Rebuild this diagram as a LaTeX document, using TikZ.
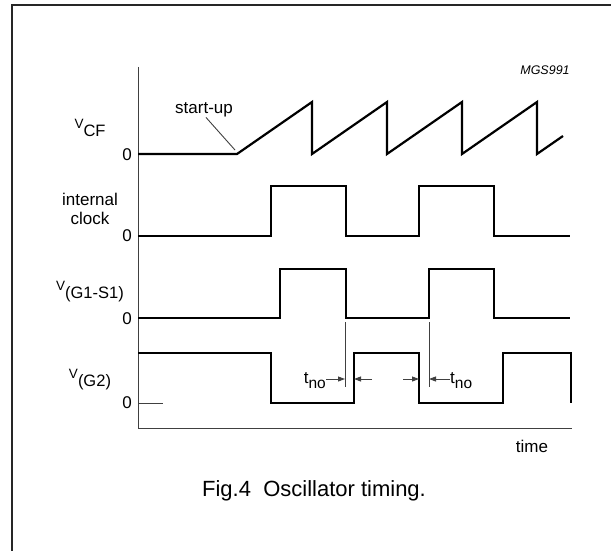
\documentclass[tikz,border=0pt]{standalone}
\usepackage{fontspec}
\setmainfont{Liberation Sans}
\usetikzlibrary{arrows.meta}
\tikzset{
  wave/.style={line width=2.2pt, line join=miter},
  thinline/.style={line width=0.9pt, black!75},
  lbl/.style={font=\fontsize{17}{19}\selectfont, inner sep=0pt},
  tarrow/.style={thinline, -{Triangle[length=7pt,width=5pt]}},
}
\newcommand{\vlab}[1]{{\fontsize{13.5}{14}\selectfont V}\raisebox{-8pt}{\fontsize{16.5}{17}\selectfont #1}}
\newcommand{\tno}{t\raisebox{-5pt}{\fontsize{15.5}{16}\selectfont no}}

\begin{document}
\begin{tikzpicture}[x=1pt,y=-1pt]
  \useasboundingbox (0,0) rectangle (611,551);
  \draw[line width=1.3pt, black!85] (12,551) -- (12,5) -- (611,5);
  \draw[thinline] (138,67) -- (138,428) -- (572,428);
  \draw[thinline] (138,403) -- (163,403);
  \draw[wave] plot coordinates {
    (138,154) (237,154) (312,102) (312,154) (387,102) (387,154)
    (462,102) (462,154) (537,102) (537,154) (563,136)
  };
  \draw[wave] plot coordinates {
    (138,236) (271,236) (271,186) (346,186) (346,236) (419,236)
    (419,186) (494,186) (494,236) (570,236)
  };
  \draw[wave] plot coordinates {
    (138,318) (280,318) (280,269) (346,269) (346,318) (429,318)
    (429,269) (494,269) (494,318) (570,318)
  };
  \draw[wave] plot coordinates {
    (138,353) (271,353) (271,403) (354,403) (354,353) (419,353)
    (419,403) (503,403) (503,353) (571,353) (571,403)
  };
  \coordinate (ma) at (345,322);
  \coordinate (mb) at (429,322);
  \draw[thinline] (ma) -- ++(0,65);
  \draw[thinline] (mb) -- ++(0,65);
  \node[lbl] (vcf) at (90,128) {\vlab{CF}};
  \node[lbl, align=center] (clk) at (90,209) {internal\\clock};
  \node[lbl] (vgs) at (90,292) {\vlab{(G1-S1)}};
  \node[lbl] (vg) at (90,380) {\vlab{(G2)}};
  \foreach \y/\n in {155/zcf,236/zclk,319/zgs,403/zg}
    \node[lbl, anchor=east] (\n) at (132,\y) {0};
  \node[lbl] (startup) at (204,110) {start-up};
  \coordinate (su) at (235,150);
  \draw[thinline] ([xshift=2pt]startup.south) -- (su);
  \node[lbl, anchor=east] (tl) at (326,381) {\tno};
  \node[lbl, anchor=west] (tr) at (450,381) {\tno};
  \draw[tarrow] (tl.east |- 0,379) -- (ma |- 0,379);
  \draw[tarrow] (372,379) -- (354,379);
  \draw[tarrow] (403,379) -- (419,379);
  \draw[tarrow] (tr.west |- 0,379) -- (mb |- 0,379);
  \node[font=\fontsize{12.5}{13}\selectfont\itshape, inner sep=0pt] (code) at (545,70) {MGS991};
  \node[lbl] (time) at (532,446) {time};
  \node[font=\fontsize{22}{24}\selectfont, inner sep=0pt] (cap) at (314,491) {Fig.4\ \ Oscillator timing.};
\end{tikzpicture}
\end{document}
